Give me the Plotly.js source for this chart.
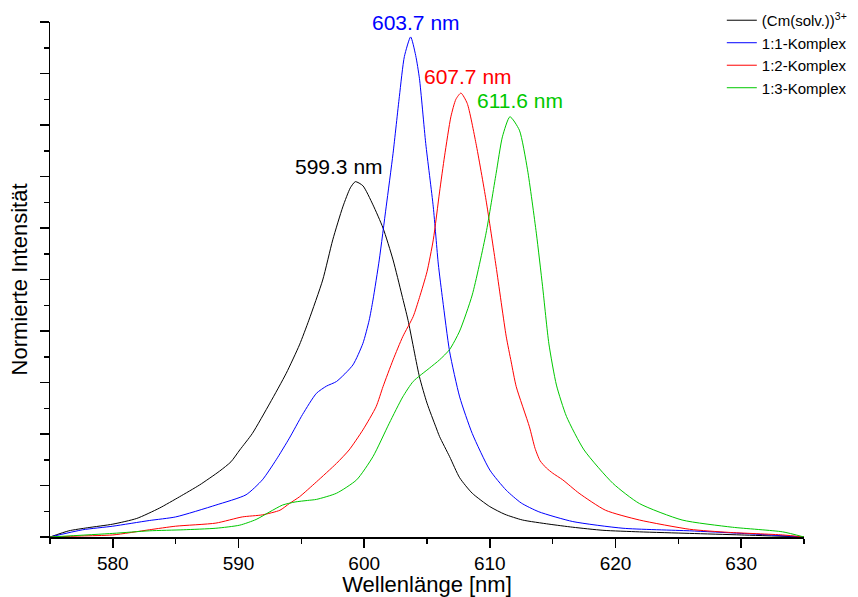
<!DOCTYPE html>
<html>
<head>
<meta charset="utf-8">
<script src="https://cdn.plot.ly/plotly-3.0.1.min.js"></script>
<style>
  html, body { margin: 0; padding: 0; background: #ffffff; }
  #chart { width: 858px; height: 597px; }
</style>
</head>
<body>
<div id="chart"></div>
<script>
// Normalised emission spectra of Cm(III): solvated ion and 1:1, 1:2, 1:3 complexes
var solvX = [575, 576.5, 578, 580, 581.9, 583.7, 585.3, 586.9, 588.5, 589.4, 590.1, 591.1, 592.5, 593.8, 594.85, 595.6, 596.7, 597.5, 598.3, 598.9, 599.3, 599.9, 600.7, 601.5, 602.3, 603.0, 603.5, 604.4, 605.0, 605.7, 606.0, 606.8, 607.6, 608.6, 610.0, 611.2, 612.6, 614.7, 616.6, 619.0, 621.9, 625.9, 630.0, 635.0];
var solvY = [0.0, 0.012, 0.018, 0.025, 0.036, 0.056, 0.078, 0.101, 0.128, 0.146, 0.169, 0.201, 0.26, 0.318, 0.373, 0.421, 0.499, 0.577, 0.641, 0.678, 0.690, 0.682, 0.645, 0.600, 0.538, 0.47, 0.42, 0.311, 0.26, 0.214, 0.195, 0.156, 0.115, 0.085, 0.059, 0.044, 0.033, 0.025, 0.019, 0.013, 0.010, 0.007, 0.004, 0.0];

var k1X = [575, 577.6, 580, 582.9, 585.0, 588.2, 590.6, 591.9, 593.0, 594.05, 595.1, 596.2, 597.0, 597.8, 599.1, 599.9, 600.4, 600.7, 601.2, 601.75, 602.3, 602.8, 603.2, 603.7, 604.1, 604.4, 604.9, 605.5, 605.9, 606.25, 606.8, 607.6, 608.6, 610.0, 611.3, 612.5, 613.9, 616.6, 620.6, 625.9, 630.0, 635.0];
var k1Y = [0.0, 0.014, 0.021, 0.032, 0.039, 0.062, 0.082, 0.111, 0.150, 0.192, 0.238, 0.279, 0.293, 0.302, 0.334, 0.376, 0.421, 0.460, 0.538, 0.641, 0.745, 0.855, 0.933, 0.971, 0.935, 0.890, 0.764, 0.641, 0.530, 0.460, 0.360, 0.272, 0.201, 0.130, 0.091, 0.066, 0.049, 0.030, 0.017, 0.012, 0.007, 0.0];

var k2X = [575, 577.5, 580, 582.9, 585.0, 588.2, 590.3, 591.9, 593.3, 594.05, 594.85, 596.2, 597.8, 598.8, 599.9, 600.95, 601.5, 602.3, 603.07, 603.9, 604.4, 605.0, 605.5, 606.0, 606.4, 606.9, 607.3, 607.7, 608.2, 608.9, 609.7, 610.5, 611.3, 611.7, 612.1, 613.15, 613.6, 614.0, 614.5, 615.0, 615.8, 617.1, 619.2, 621.9, 625.9, 629.0, 633.3, 635.0];
var k2Y = [0.0, 0.002, 0.004, 0.014, 0.021, 0.027, 0.039, 0.043, 0.052, 0.065, 0.078, 0.107, 0.143, 0.169, 0.208, 0.253, 0.292, 0.344, 0.389, 0.428, 0.465, 0.515, 0.577, 0.670, 0.740, 0.816, 0.850, 0.862, 0.842, 0.764, 0.654, 0.525, 0.390, 0.340, 0.292, 0.214, 0.172, 0.148, 0.134, 0.124, 0.111, 0.085, 0.052, 0.033, 0.015, 0.009, 0.004, 0.0];

var k3X = [575, 580, 582.9, 585.6, 588.2, 590.1, 591.4, 592.5, 593.5, 594.5, 595.5, 596.2, 597.8, 599.4, 600.7, 602.0, 603.07, 603.9, 605.2, 606.0, 606.8, 607.6, 608.6, 609.7, 610.5, 611.0, 611.6, 612.35, 613.0, 613.7, 614.2, 614.7, 615.3, 616.1, 617.5, 619.8, 621.9, 625.3, 629.3, 633.3, 635.0];
var k3Y = [0.0, 0.007, 0.012, 0.014, 0.017, 0.023, 0.034, 0.049, 0.062, 0.068, 0.071, 0.073, 0.085, 0.111, 0.156, 0.221, 0.272, 0.302, 0.328, 0.344, 0.364, 0.400, 0.470, 0.590, 0.706, 0.777, 0.816, 0.790, 0.713, 0.590, 0.486, 0.375, 0.295, 0.234, 0.169, 0.104, 0.065, 0.033, 0.019, 0.010, 0.0];

var seriesNames = ['(Cm(solv.))<sup>3+</sup>', '1:1-Komplex', '1:2-Komplex', '1:3-Komplex'];
var seriesColors = ['#000000', '#0000ff', '#ff0000', '#00c800'];

// Peak maxima labels
var peakX = [599.3, 603.7, 607.7, 611.6];
var peakLabels = ['599.3 nm', '603.7 nm', '607.7 nm', '611.6 nm'];

var xs = [solvX, k1X, k2X, k3X];
var ys = [solvY, k1Y, k2Y, k3Y];

var FONT = 'Liberation Sans, Arial, Helvetica, sans-serif';

var traces = xs.map(function (x, i) {
  return {
    type: 'scatter',
    mode: 'lines',
    name: seriesNames[i],
    x: x,
    y: ys[i],
    line: { color: seriesColors[i], width: 1, shape: 'spline', smoothing: 0.6 },
    hoverinfo: 'skip'
  };
});

function peakValue(i) {
  var idx = xs[i].indexOf(peakX[i]);
  return ys[i][idx];
}

var labelShift = [[-16, 2], [5, 1], [7, 3], [10, 3]];

var annotations = peakX.map(function (px, i) {
  return {
    x: px,
    y: peakValue(i),
    xref: 'x',
    yref: 'y',
    text: peakLabels[i],
    showarrow: false,
    xanchor: 'center',
    yanchor: 'bottom',
    xshift: labelShift[i][0],
    yshift: labelShift[i][1],
    font: { family: FONT, size: 21, color: seriesColors[i] }
  };
});

var layout = {
  width: 858,
  height: 597,
  margin: { l: 50, r: 54, t: 22, b: 60, autoexpand: false },
  paper_bgcolor: '#ffffff',
  plot_bgcolor: '#ffffff',
  font: { family: FONT, color: '#000000' },
  showlegend: true,
  legend: {
    x: 0.891, y: 1.035, xanchor: 'left', yanchor: 'top',
    font: { family: FONT, size: 15, color: '#000000' },
    bgcolor: 'rgba(0,0,0,0)',
    borderwidth: 0,
    itemwidth: 30,
    tracegroupgap: 0
  },
  xaxis: {
    range: [575, 635],
    tick0: 580,
    dtick: 10,
    ticks: 'outside',
    ticklen: 9,
    tickwidth: 1.5,
    tickcolor: '#000000',
    minor: { dtick: 5, tick0: 575, ticks: 'outside', ticklen: 5, tickwidth: 1.5, tickcolor: '#000000', showgrid: false },
    showline: true,
    linecolor: '#000000',
    linewidth: 1.5,
    showgrid: false,
    zeroline: false,
    automargin: true,
    tickfont: { family: FONT, size: 19, color: '#000000' },
    title: { text: 'Wellenlänge [nm]', font: { family: FONT, size: 22, color: '#000000' }, standoff: 3 }
  },
  yaxis: {
    range: [0, 1],
    tick0: 0,
    dtick: 0.1,
    ticks: 'outside',
    ticklen: 9,
    tickwidth: 1.5,
    tickcolor: '#000000',
    minor: { dtick: 0.05, ticks: 'outside', ticklen: 5, tickwidth: 1.5, tickcolor: '#000000', showgrid: false },
    showticklabels: false,
    showline: true,
    linecolor: '#000000',
    linewidth: 1.5,
    showgrid: false,
    zeroline: false,
    title: { text: 'Normierte Intensität', font: { family: FONT, size: 22, color: '#000000' }, standoff: 6 }
  },
  annotations: annotations
};

Plotly.newPlot('chart', traces, layout, { displayModeBar: false, staticPlot: true });
</script>
</body>
</html>
